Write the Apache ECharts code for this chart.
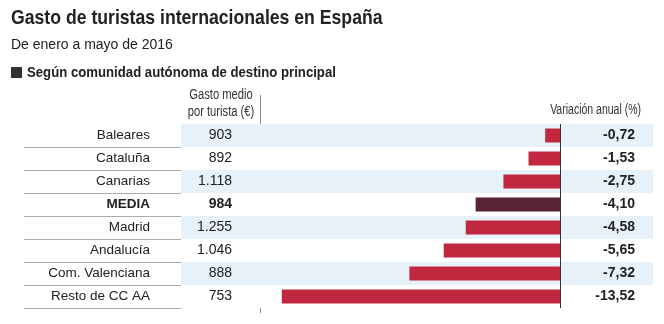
<!DOCTYPE html>
<html>
<head>
<meta charset="utf-8">
<script src="https://cdn.jsdelivr.net/npm/echarts@6/dist/echarts.min.js"></script>
<style>html,body{margin:0;padding:0;background:#fff}#c{width:664px;height:324px}</style>
</head>
<body>
<div id="c"></div>
<script>
const categories = ['Baleares','Cataluña','Canarias','MEDIA','Madrid','Andalucía','Com. Valenciana','Resto de CC AA'];
const gastoMedio = [903, 892, 1118, 984, 1255, 1046, 888, 753];
const variacion = [-0.72, -1.53, -2.75, -4.10, -4.58, -5.65, -7.32, -13.52];
const highlight = 'MEDIA';

const SANS = '"Liberation Sans", Arial, sans-serif';
const fmtGasto = v => String(v).replace(/\B(?=(\d{3})+(?!\d))/g, '.');
const fmtVar = v => v.toFixed(2).replace('.', ',');

const chart = echarts.init(document.getElementById('c'), null, {renderer: 'canvas'});
const rows = {top: 124, height: 184};
const nCat = categories.length;
const noLine = {show: false, onZero: false};

chart.setOption({
  animation: false,
  backgroundColor: '#fff',
  graphic: [
    {type: 'text', x: 11, y: 18, scaleX: 0.84, style: {text: 'Gasto de turistas internacionales en España',
      font: 'bold 21px ' + SANS, fill: '#222', verticalAlign: 'middle'}},
    {type: 'text', x: 11, y: 45, style: {text: 'De enero a mayo de 2016',
      font: '14px ' + SANS, fill: '#222', verticalAlign: 'middle'}},
    {type: 'rect', shape: {x: 11, y: 67, width: 11, height: 11}, style: {fill: '#333'}},
    {type: 'text', x: 27, y: 72.5, scaleX: 0.85, style: {text: 'Según comunidad autónoma de destino principal',
      font: 'bold 15.5px ' + SANS, fill: '#222', verticalAlign: 'middle'}},
    {type: 'text', x: 221, y: 95.5, scaleX: 0.8, style: {text: 'Gasto medio', textAlign: 'center',
      font: '14px ' + SANS, fill: '#333', verticalAlign: 'middle'}},
    {type: 'text', x: 221, y: 112, scaleX: 0.8, style: {text: 'por turista (€)', textAlign: 'center',
      font: '14px ' + SANS, fill: '#333', verticalAlign: 'middle'}},
    {type: 'text', x: 641, y: 110, scaleX: 0.75, style: {text: 'Variación anual (%)', textAlign: 'right',
      font: '14px ' + SANS, fill: '#333', verticalAlign: 'middle'}},
    {type: 'line', shape: {x1: 260.5, y1: 95, x2: 260.5, y2: 313}, style: {stroke: '#888', lineWidth: 1}}
  ],
  grid: [
    {left: 181, right: 11, top: rows.top, height: rows.height, outerBoundsMode: 'none', containLabel: false},
    {left: 24, width: 157, top: rows.top, height: rows.height, outerBoundsMode: 'none', containLabel: false}
  ],
  xAxis: [
    {gridIndex: 0, type: 'value', min: -18.42, max: 4.52, show: false},
    {gridIndex: 1, type: 'value', min: 0, max: 1, show: false}
  ],
  yAxis: [
    {gridIndex: 0, type: 'category', inverse: true, data: categories, position: 'left',
     axisLine: noLine, axisTick: {show: false}, splitLine: {show: false},
     splitArea: {show: true, areaStyle: {color: ['#e7f1f9', '#ffffff']}},
     axisLabel: {align: 'right', margin: -51, fontFamily: SANS, fontSize: 14, color: '#222',
       formatter: (v, i) => v === highlight ? '{b|' + fmtGasto(gastoMedio[i]) + '}' : fmtGasto(gastoMedio[i]),
       rich: {b: {fontFamily: SANS, fontSize: 14, fontWeight: 'bold', color: '#222'}}}},
    {gridIndex: 0, type: 'category', inverse: true, data: categories, position: 'right',
     axisLine: noLine, axisTick: {show: false}, splitLine: {show: false},
     axisLabel: {align: 'right', margin: -18, fontFamily: SANS, fontSize: 14, fontWeight: 'bold', color: '#222',
       formatter: (v, i) => fmtVar(variacion[i])}},
    {gridIndex: 0, type: 'category', inverse: true, data: categories, position: 'left',
     axisLine: noLine, axisTick: {show: false}, splitLine: {show: false},
     axisLabel: {align: 'right', margin: 31, fontFamily: SANS, fontSize: 13.5, color: '#222',
       formatter: v => v === highlight ? '{b|' + v + '}' : v,
       rich: {b: {fontFamily: SANS, fontSize: 13.5, fontWeight: 'bold', color: '#222'}}}},
    {gridIndex: 1, type: 'category', inverse: true, data: categories, position: 'right',
     axisLine: noLine, axisTick: {show: false}, axisLabel: {show: false},
     splitLine: {show: true, lineStyle: {color: '#aaa', width: 1},
       interval: (i) => i > 0 && i < nCat}}
  ],
  series: [{
    type: 'bar', xAxisIndex: 0, yAxisIndex: 0, barWidth: 14,
    data: variacion.map((v, i) => ({value: v, itemStyle: {color: categories[i] === highlight ? '#5b2337' : '#c1283f'}})),
    markLine: {silent: true, symbol: 'none', label: {show: false},
      lineStyle: {color: '#333', width: 1, type: 'solid'}, data: [{xAxis: 0}]}
  }]
});
</script>
</body>
</html>
